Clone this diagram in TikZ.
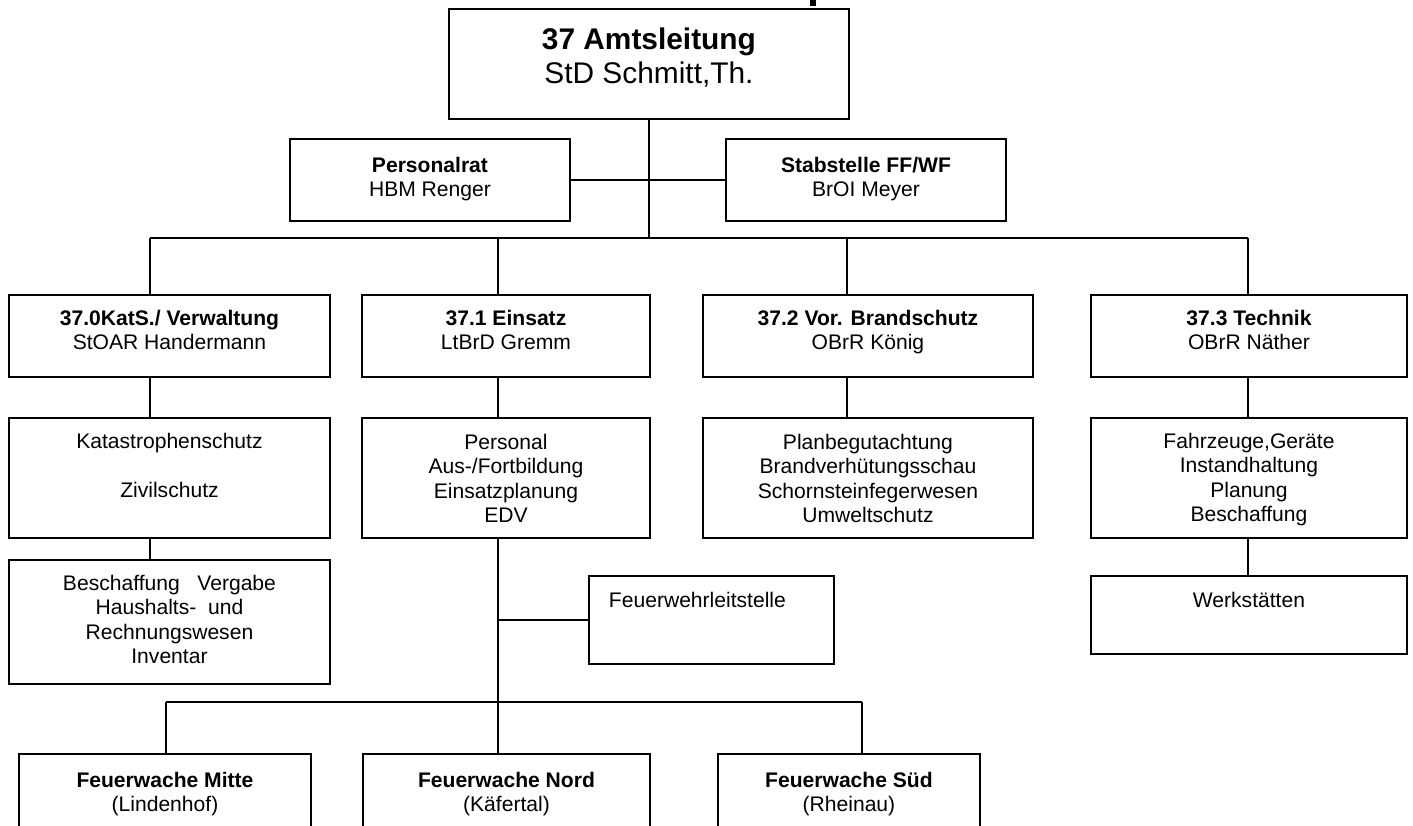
\documentclass[tikz,border=0pt]{standalone}
\usepackage{fontspec}
\setmainfont{Liberation Sans}

\newdimen\pxu \pxu=0.02cm
% box text: width, height, top pad, text
\newcommand{\orgtext}[4]{\parbox[t][#2\pxu][t]{#1\pxu}{\vspace*{#3\pxu}\centering #4\par}}

\tikzset{
  orgbox/.style={draw, line width=1.1pt, inner sep=0pt, anchor=north west,
    font=\fontsize{12}{13.9}\selectfont},
  headbox/.style={orgbox, font=\fontsize{17}{19.5}\selectfont},
  link/.style={line width=1pt},
}

\begin{document}
\begin{tikzpicture}[x=0.02cm, y=-0.02cm]
  \clip (0,0) rectangle (1413,825);
  \fill (810,0) rectangle (816,6);

  % Amtsleitung
  \node[headbox] (amt) at (448,8) {\orgtext{400}{110}{19}{\textbf{37 Amtsleitung}\\StD Schmitt,Th.}};
  \node[orgbox] (prat) at (289,138) {\orgtext{280}{82}{18}{\textbf{Personalrat}\\HBM Renger}};
  \node[orgbox] (stab) at (725,138) {\orgtext{280}{82}{18}{\textbf{Stabstelle FF/WF}\\BrOI Meyer}};

  % Abteilungen
  \node[orgbox] (kats) at (8,294) {\orgtext{321}{82}{15}{\textbf{37.0KatS./ Verwaltung}\\StOAR Handermann}};
  \node[orgbox] (einsatz) at (361,294) {\orgtext{288}{82}{15}{\textbf{37.1 Einsatz}\\LtBrD Gremm}};
  \node[orgbox] (brand) at (702,294) {\orgtext{330}{82}{15}{\textbf{37.2 Vor. Brandschutz}\\OBrR König}};
  \node[orgbox] (technik) at (1090,294) {\orgtext{316}{82}{15}{\textbf{37.3 Technik}\\OBrR Näther}};

  % Aufgaben
  \node[orgbox] (katschutz) at (8,417) {\orgtext{321}{120}{15}{Katastrophenschutz\\[13.9pt]Zivilschutz}};
  \node[orgbox] (personal) at (361,417) {\orgtext{288}{120}{16}{Personal\\Aus-/Fortbildung\\Einsatzplanung\\EDV}};
  \node[orgbox] (planung) at (702,417) {\orgtext{330}{120}{16}{Planbegutachtung\\Brandverhütungsschau\\Schornsteinfegerwesen\\Umweltschutz}};
  \node[orgbox] (geraete) at (1090,417) {\orgtext{316}{120}{15}{Fahrzeuge,Geräte\\Instandhaltung\\Planung\\Beschaffung}};

  \node[orgbox] (verwaltung) at (8,559) {\orgtext{321}{124}{15}{Beschaffung\ \ \ Vergabe\\Haushalts-\ \ und\\Rechnungswesen\\Inventar}};
  \node[orgbox] (leitstelle) at (588,575) {\parbox[t][88\pxu][t]{245\pxu}{\vspace*{16\pxu}\hspace*{20\pxu}Feuerwehrleitstelle}};
  \node[orgbox] (werkstatt) at (1090,575) {\orgtext{316}{78}{16}{Werkstätten}};

  % Feuerwachen
  \node[orgbox] (mitte) at (18,753) {\orgtext{292}{100}{18}{\textbf{Feuerwache Mitte}\\(Lindenhof)}};
  \node[orgbox] (nord) at (362,753) {\orgtext{287}{100}{18}{\textbf{Feuerwache Nord}\\(Käfertal)}};
  \node[orgbox] (sued) at (717,753) {\orgtext{262}{100}{18}{\textbf{Feuerwache Süd}\\(Rheinau)}};

  % Verbindungen
  \coordinate (trunk) at (649,238);
  \coordinate (b0) at (150,238);
  \coordinate (b1) at (498,238);
  \coordinate (b2) at (847,238);
  \coordinate (b3) at (1248,238);
  \draw[link] (amt.south -| trunk) -- (trunk);
  \draw[link] (prat.east) -- (stab.west);
  \draw[link] (b0) -- (b3);
  \foreach \c/\nd in {b0/kats, b1/einsatz, b2/brand, b3/technik}
    \draw[link] (\c) -- (\c |- \nd.north);

  \draw[link] (kats.south -| b0) -- (katschutz.north -| b0);
  \draw[link] (katschutz.south -| b0) -- (verwaltung.north -| b0);
  \draw[link] (einsatz.south -| b1) -- (personal.north -| b1);
  \draw[link] (brand.south -| b2) -- (planung.north -| b2);
  \draw[link] (technik.south -| b3) -- (geraete.north -| b3);
  \draw[link] (geraete.south -| b3) -- (werkstatt.north -| b3);

  \coordinate (w0) at (166,702);
  \coordinate (w1) at (498,702);
  \coordinate (w2) at (862,702);
  \draw[link] (personal.south -| b1) -- (w1);
  \draw[link] (leitstelle.west) -- (leitstelle.west -| b1);
  \draw[link] (w0) -- (w2);
  \foreach \c/\nd in {w0/mitte, w1/nord, w2/sued}
    \draw[link] (\c) -- (\c |- \nd.north);
\end{tikzpicture}
\end{document}
